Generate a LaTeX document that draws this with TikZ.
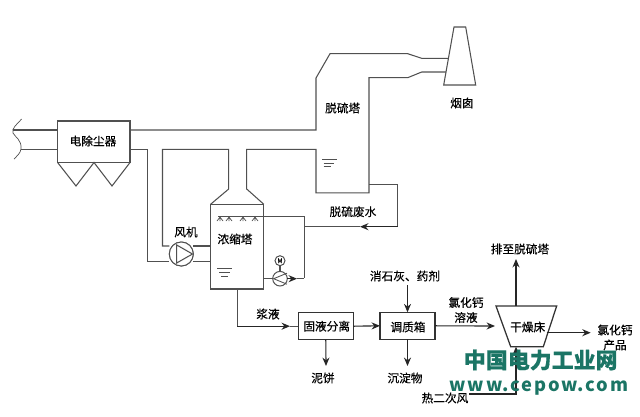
\documentclass[tikz,border=0pt]{standalone}
\usepackage{fontspec}
\usepackage{xcolor}
\setmainfont{Noto Sans CJK SC}[FakeBold=0.35]
\newfontfamily\markfont{Noto Sans CJK SC}[LetterSpace=10]
\usetikzlibrary{arrows.meta,calc,positioning}
\definecolor{pipeGray}{HTML}{505050}
\definecolor{markGreen}{HTML}{1B7565}
\tikzset{
  pipe/.style={line width=0.75pt, draw=pipeGray},
  flow/.style={line width=0.8pt, draw=black!85, -{Stealth[length=6pt,width=5pt]}},
  unitbox/.style={draw=black!80, line width=0.9pt, inner sep=0pt, outer sep=0pt},
  unitlabel/.style={font=\fontsize{8.3pt}{10pt}\selectfont, text=black, inner sep=0pt},
  circ/.style={draw=pipeGray, line width=0.7pt, circle, inner sep=0pt, outer sep=0pt, fill=white},
  level/.style={line width=0.6pt, draw=pipeGray}
}
\begin{document}
\begin{tikzpicture}[x=0.025cm,y=-0.025cm]
    \useasboundingbox (0,0) rectangle (640,416);
    % units
    \node[unitbox, draw=pipeGray, minimum width=1.81cm, minimum height=1.04cm] (esp) at (93.8,141.7) {};
    \node[unitbox, draw=pipeGray, minimum width=1.325cm, minimum height=2.12cm] (conc) at (237.2,246.6) {};
    \node[unitbox, minimum width=1.375cm, minimum height=0.675cm] (solid) at (325.8,326.2) {};
    \node[unitbox, minimum width=1.375cm, minimum height=0.675cm] (tank) at (407.5,325.8) {};
    \node[circ, minimum size=0.6cm] (fan) at (181.3,254) {};
    \node[circ, minimum size=0.365cm] (pump) at (280,278.7) {};
    \node[circ, minimum size=0.25cm, font=\fontsize{4.5pt}{5pt}\selectfont] (motor) at (280,260.7) {M};
    % inlet duct with break line
    \coordinate (breakA) at (13,130);
    \coordinate (breakB) at (21,149.3);
    \draw[pipe, line width=0.5pt] (21.7,119) .. controls (17,124) and (11,129) .. (13,133) .. controls (15,137) and (22,140) .. (21,149) .. controls (20.5,153) and (17,156) .. (14,159);
    \draw[pipe] (breakA) -- (esp.west |- breakA);
    \draw[pipe] (breakB) -- (esp.west |- breakB);
    % hoppers
    \draw[pipe] (esp.south west) -- (76,186) -- (94,162.5) -- (112,186) -- (esp.south east);
    % flue to the absorber and stack
    \draw[pipe] (esp.east |- breakA) -- (316,130) -- (316,78) -- (330,53.7) -- (407.7,53.7) -- (421.7,58.3) -- (448.3,58.3);
    \draw[pipe] (446.2,72) -- (421.7,72) -- (407.7,77.7) -- (369,77.7) -- (369,192.8) -- (316,192.8) -- (316,149.3) -- (246.7,149.3) -- (246.7,189) -- (conc.north east);
    \draw[pipe] (conc.north west) -- (228.7,189) -- (228.7,149.3) -- (162.5,149.3) -- (162.5,246) -- (fan.west |- 0,246);
    \draw[pipe] (esp.east |- breakB) -- (147.3,149.3) -- (147.3,261.7) -- (fan.west |- 0,261.7);
    \draw[pipe] (fan.east |- 0,246) -- (conc.west |- 0,246);
    \draw[pipe] (fan.east |- 0,261.7) -- (conc.west |- 0,261.7);
    \node[circ] at (fan) [minimum size=0.6cm] {};
    \draw[pipe] (176.7,245) -- (192.5,254) -- (176.7,263) -- cycle;
    % stack
    \draw[pipe] (454,27) -- (465.7,27) -- (475.7,85) -- (443.7,85) -- cycle;
    % waste water loop
    \coordinate (wasteCorner) at (397.5,226.7);
    \coordinate (wasteTip) at (360,226.7);
    \draw[pipe] (369,184.4) -- (397.5,184.4) -- (wasteCorner);
    \draw[flow] (wasteCorner) -- (wasteTip);
    \draw[pipe] (wasteTip) -- (304.3,226.7);
    \draw[pipe] (218,216.7) -- (304.3,216.7) -- (304.3,278.3);
    \coordinate (pumpTip) at (297,278.7);
    \draw[pipe] (conc.east |- pump) -- (pump.west);
    \draw[flow] (pump.east) -- (pumpTip);
    \draw[pipe] (pumpTip) -- (304.3,278.7);
    \draw[pipe] (motor) -- (pump);
    \draw[pipe, line width=0.6pt] (287,273.2) -- (273.6,278.7) -- (287,284.2);
    \foreach \nx in {220,229,243,255} {
      \draw[pipe, line width=0.5pt] (\nx,217) -- (\nx,221) (\nx-3,221) -- (\nx,217) -- (\nx+3,221);
    }
    % liquid levels
    \draw[level] (322,159.3) -- (337,159.3) (323.5,163) -- (334,163) (323.5,166.5) -- (331,166.5);
    \draw[level] (217,268.7) -- (232,268.7) (219,272.5) -- (229.5,272.5) (221,276) -- (227.5,276);
    % slurry line and solids train
    \coordinate (slurryTurn) at (conc.south |- solid);
    \coordinate (slurryTip) at (290,326.2);
    \draw[pipe] (conc.south) -- (slurryTurn);
    \draw[flow] (slurryTurn) -- (slurryTip);
    \draw[pipe] (slurryTip) -- (solid.west);
    \draw[flow] (solid.east) -- (tank.west);
    \draw[flow] (solid.south) -- (326,366);
    \draw[flow] (tank.south) -- (407.5,366);
    \draw[flow] (407.5,285) -- (tank.north);
    % dryer
    \coordinate (dryerNW) at (496,306);
    \coordinate (dryerNE) at (556.7,306);
    \coordinate (dryerSE) at (543.3,346.7);
    \coordinate (dryerSW) at (510.7,346.7);
    \draw[unitbox] (dryerNW) -- (dryerNE) -- (dryerSE) -- (dryerSW) -- cycle;
    \node[unitlabel] (dryer) at (527.7,327) {干燥床};
    \draw[flow] (tank.east) -- (495,326);
    \draw[flow] (516,306) -- (516,259);
    \draw[flow] (546.7,332.7) -- (590.7,332.7);
    \draw[flow] (469,394) -- (516,394) -- (516,346.7);
    % labels
    \node[unitlabel] (espLabel) at (93,141) {电除尘器};
    \node[unitlabel] (absorberLabel) at (342.7,108) {脱硫塔};
    \node[unitlabel] (stackLabel) at (462,103) {烟囱};
    \node[unitlabel] (wasteLabel) at (353,211.7) {脱硫废水};
    \node[unitlabel] (fanLabel) at (186,232) {风机};
    \node[unitlabel] (concLabel) at (235,239) {浓缩塔};
    \node[unitlabel] (slurryLabel) at (268,314) {浆液};
    \node[unitlabel] (solidLabel) at (326.7,326.2) {固液分离};
    \node[unitlabel] (tankLabel) at (408,327) {调质箱};
    \node[unitlabel] (cakeLabel) at (323,378) {泥饼};
    \node[unitlabel] (sludgeLabel) at (405,378) {沉淀物};
    \node[unitlabel] (limeLabel) at (405,276) {消石灰、药剂};
    \node[unitlabel] (returnLabel) at (520,249) {排至脱硫塔};
    \node[unitlabel, align=center] (brineLabel) at (466,310) {氯化钙\\[0.6pt]溶液};
    \node[unitlabel, align=center] (productLabel) at (615,337.5) {氯化钙\\[0.6pt]产品};
    \node[unitlabel] (airLabel) at (445,398) {热二次风};
    % watermark
    \node[text=markGreen, font=\fontsize{15.6pt}{17pt}\bfseries, inner sep=0pt] (markCn) at (540.7,360) {中国电力工业网};
    \node[text=markGreen, font=\markfont\fontsize{13pt}{15pt}\bfseries, inner sep=0pt] (markWeb) at (539,388) {www.cepow.com};
  \end{tikzpicture}
\end{document}
